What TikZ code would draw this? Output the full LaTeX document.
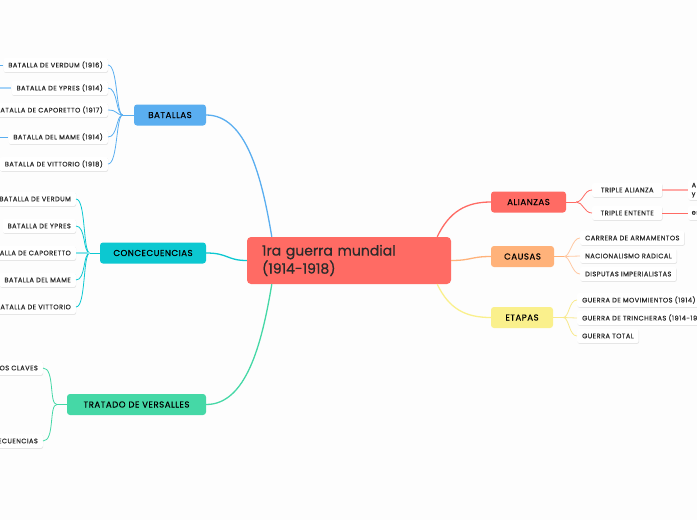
\documentclass[tikz,border=0pt]{standalone}
\usepackage{fontspec}
\setmainfont{Poppins}[FakeBold=0.5]
\newfontfamily\leaffont[LetterSpace=7,FakeBold=0.45]{Poppins}
\newfontfamily\mnfont[LetterSpace=6,FakeBold=0.35]{Poppins}
\usetikzlibrary{calc,shadows}
\definecolor{cRed}{HTML}{FF6B64}
\definecolor{cBlue}{HTML}{5AAEF0}
\definecolor{cBlueL}{HTML}{A5D3F8}
\definecolor{cCyan}{HTML}{0CC8D1}
\definecolor{cCyanL}{HTML}{86E3E8}
\definecolor{cGreen}{HTML}{45D8A6}
\definecolor{cOrange}{HTML}{FFB27A}
\definecolor{cOrangeL}{HTML}{FFC9A3}
\definecolor{cYellow}{HTML}{FAF08C}
\definecolor{cYellowL}{HTML}{F8E98C}
\definecolor{cRedL}{HTML}{FFA9A6}
\definecolor{bg}{HTML}{FDFDFD}
\definecolor{txt}{HTML}{2B2B2B}
\begin{document}
\begin{tikzpicture}[x=1pt,y=-1pt,
  mainnode/.style={rounded corners=3pt, minimum height=21pt, inner sep=0pt,
    font=\mnfont\fontsize{8.6}{10}\selectfont, text=black},
  leaf/.style={fill=white, rounded corners=2pt, minimum height=14pt, inner xsep=5pt,
    inner ysep=0pt, font=\leaffont\fontsize{6.6}{7.5}\selectfont, text=txt,
    drop shadow={shadow xshift=0.4pt, shadow yshift=-0.8pt, opacity=0.10, fill=black}},
  conn/.style={line width=1.3pt},
  br/.style={line width=0.8pt}
]
\useasboundingbox (0,0) rectangle (697,520);
\fill[bg] (0,0) rectangle (697,520);
\clip (0,0) rectangle (697,520);

% central
\node[fill=cRed, rounded corners=4pt, minimum height=47pt, inner xsep=15pt, inner ysep=0pt,
  text width=174pt, align=left, font=\fontsize{14}{18}\selectfont, text=txt]
  (c) at (349,260.5) {1ra guerra mundial\\(1914-1918)};

% main nodes
\node[mainnode, fill=cBlue, minimum width=72pt] (bat) at (170,115) {BATALLAS};
\node[mainnode, fill=cCyan, minimum width=106pt] (con) at (153,253) {CONCECUENCIAS};
\node[mainnode, fill=cGreen, minimum width=139pt] (tra) at (136.5,404.5) {TRATADO DE VERSALLES};
\node[mainnode, fill=cRed, minimum width=75pt] (ali) at (528.5,202) {ALIANZAS};
\node[mainnode, fill=cOrange, minimum width=63pt] (cau) at (522.5,256.5) {CAUSAS};
\node[mainnode, fill=cYellow, minimum width=62pt] (eta) at (522,317.5) {ETAPAS};

% main connectors
\draw[conn, cBlue] (bat.east) .. controls +(40,0) and +(-10,-60) .. ($(c.north west)+(25,0)$);
\draw[conn, cCyan] (con.east) .. controls +(22,0) and +(-20,0) .. (c.west);
\draw[conn, cGreen] (tra.east) .. controls +(40,0) and +(-10,60) .. ($(c.south west)+(25,0)$);
\draw[conn, cRed] ($(c.north east)+(-14,0)$) .. controls +(12,-25) and +(-25,0) .. (ali.west);
\draw[conn, cOrange] (c.east) .. controls +(20,0) and +(-20,0) .. (cau.west);
\draw[conn, cYellow] ($(c.south east)+(-14,0)$) .. controls +(12,25) and +(-25,0) .. (eta.west);

% BATALLAS leaves
\node[leaf, anchor=east] (b1) at (108,65) {BATALLA DE VERDUM (1916)};
\node[leaf, anchor=east] (b2) at (108,88) {BATALLA DE YPRES (1914)};
\node[leaf, anchor=east] (b3) at (108,110) {BATALLA DE CAPORETTO (1917)};
\node[leaf, anchor=east] (b4) at (108,137) {BATALLA DEL MAME (1914)};
\node[leaf, anchor=east] (b5) at (108,164) {BATALLA DE VITTORIO (1918)};
\draw[br, cBlue] (bat.west) -- ++(-11,0) coordinate (jb);
\foreach \n in {b1,b2,b3,b4,b5}
  \draw[br, cBlue] (jb) .. controls +(-7,0) and +(10,0) .. (\n.east);
\coordinate (bx1) at (-10,65);
\coordinate (bx2) at (-10,88);
\coordinate (bx4) at (-10,137);
\draw[br, cBlue] (b1.west) -- (bx1);
\draw[line width=1.8pt, cBlueL] (b2.west) -- (bx2);
\draw[br, cBlue] (b4.west) -- (bx4);

% CONCECUENCIAS leaves
\node[leaf, anchor=east] (k1) at (76,199) {BATALLA DE VERDUM};
\node[leaf, anchor=east] (k2) at (76,226) {BATALLA DE YPRES};
\node[leaf, anchor=east] (k3) at (76,253) {BATALLA DE CAPORETTO};
\node[leaf, anchor=east] (k4) at (76,280) {BATALLA DEL MAME};
\node[leaf, anchor=east] (k5) at (76,307) {BATALLA DE VITTORIO};
\draw[br, cCyan] (con.west) -- ++(-10,0) coordinate (jk);
\foreach \n in {k1,k2,k4,k5}
  \draw[br, cCyan] (jk) .. controls +(-7,0) and +(10,0) .. (\n.east);
\draw[line width=1.8pt, cCyanL] (jk) -- (k3.east);

% TRATADO leaves
\node[leaf, anchor=east] (t1) at (43,368) {PUNTOS CLAVES};
\node[leaf, anchor=east] (t2) at (43,441) {CONSECUENCIAS};
\draw[br, cGreen] (tra.west) -- ++(-10,0) coordinate (jt);
\foreach \n in {t1,t2}
  \draw[br, cGreen] (jt) .. controls +(-8,0) and +(12,0) .. (\n.east);

% ALIANZAS leaves
\node[leaf, anchor=west, minimum width=70pt, inner xsep=3pt] (a1) at (592,190) {TRIPLE ALIANZA};
\node[leaf, anchor=west, minimum width=70pt, inner xsep=3pt] (a2) at (592,213) {TRIPLE ENTENTE};
\draw[br, cRed] (ali.east) -- ++(10,0) coordinate (ja);
\foreach \n in {a1,a2}
  \draw[br, cRed] (ja) .. controls +(7,0) and +(-8,0) .. (\n.west);
\node[leaf, anchor=west, align=left, minimum height=20pt, inner xsep=3.5pt,
  font=\leaffont\fontsize{6.6}{8.5}\selectfont]
  (f1) at (688,190) {Alemania, Austria-Hungría\\y Italia};
\node[leaf, anchor=west, inner xsep=3.5pt] (f2) at (688,213) {estaba formada por Francia, Reino Unido y Rusia};
\draw[line width=1.8pt, cRedL] (a1.east) -- (f1.west);
\draw[br, cRed] (a2.east) -- (f2.west);

% CAUSAS leaves
\node[leaf, anchor=west] (s1) at (580,238) {CARRERA DE ARMAMENTOS};
\node[leaf, anchor=west] (s2) at (580,256) {NACIONALISMO RADICAL};
\node[leaf, anchor=west] (s3) at (580,274) {DISPUTAS IMPERIALISTAS};
\draw[br, cOrange] (cau.east) -- ++(10,0) coordinate (js);
\foreach \n in {s1,s3}
  \draw[br, cOrangeL] (js) .. controls +(6,0) and +(-8,0) .. (\n.west);
\draw[br, cOrangeL] (js) -- (s2.west);

% ETAPAS leaves
\node[leaf, anchor=west] (e1) at (577,300) {GUERRA DE MOVIMIENTOS (1914)};
\node[leaf, anchor=west] (e2) at (577,318) {GUERRA DE TRINCHERAS (1914-1917)};
\node[leaf, anchor=west] (e3) at (577,336) {GUERRA TOTAL};
\draw[br, cYellowL] (eta.east) -- ++(10,0) coordinate (je);
\foreach \n in {e1,e3}
  \draw[br, cYellowL] (je) .. controls +(6,0) and +(-8,0) .. (\n.west);
\draw[br, cYellowL] (je) -- (e2.west);
\end{tikzpicture}
\end{document}
